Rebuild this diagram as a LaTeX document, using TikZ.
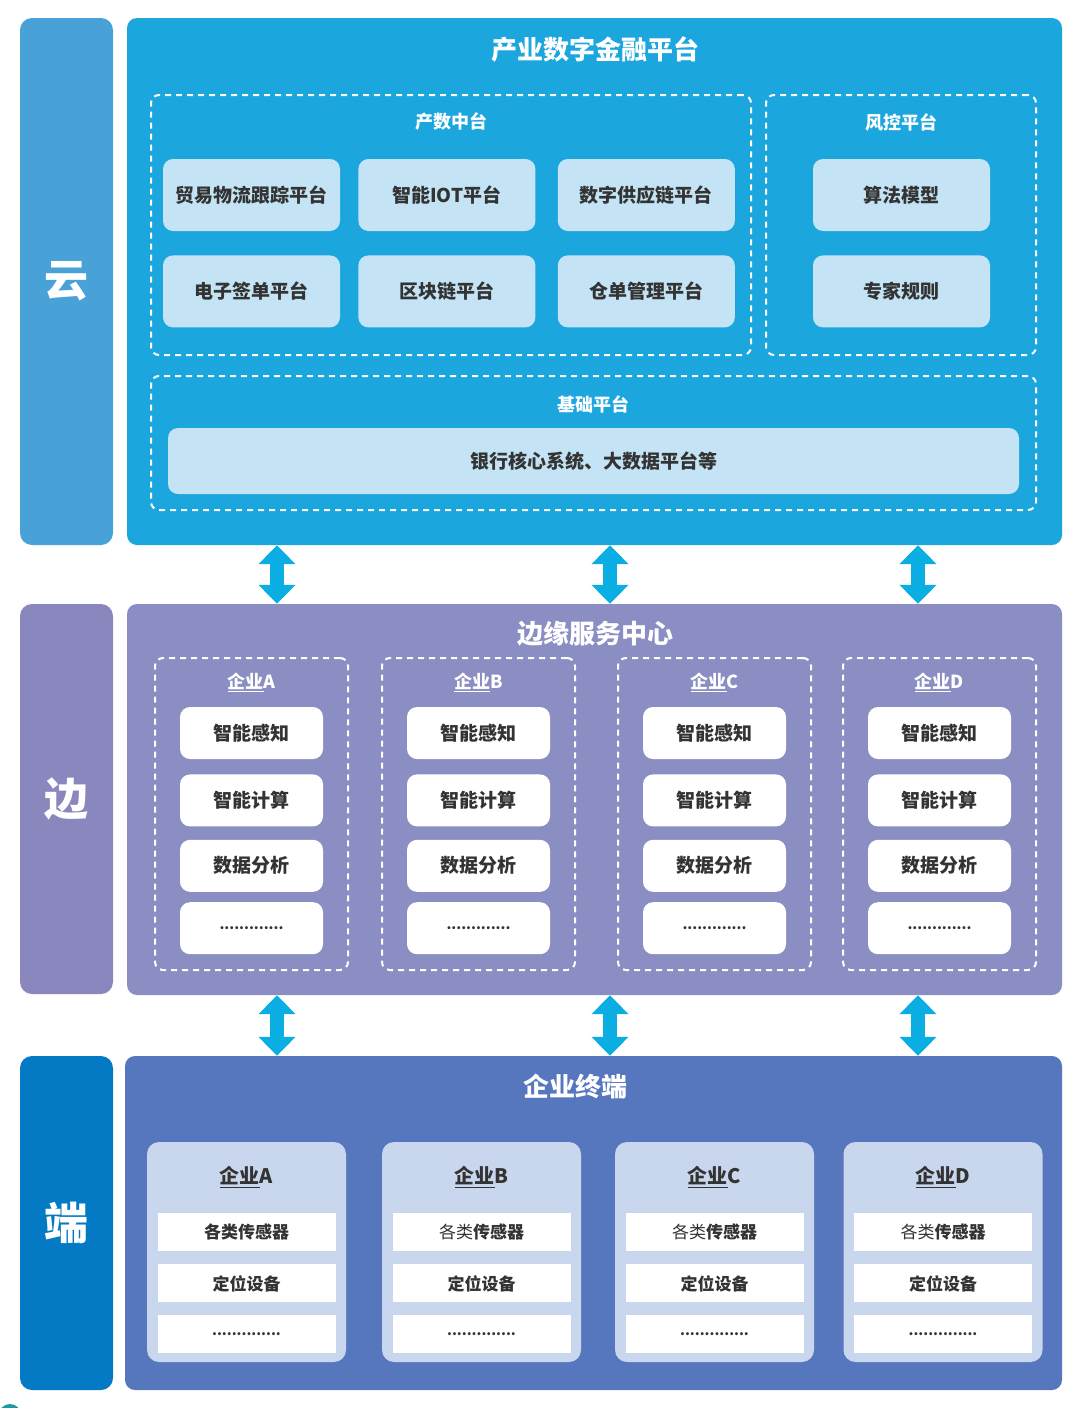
\documentclass[tikz,border=0pt]{standalone}
\usepackage{fontspec}
\setmainfont{Noto Sans CJK SC}
\usetikzlibrary{positioning,arrows.meta}

\definecolor{yunbar}{HTML}{48A1D7}
\definecolor{yunpanel}{HTML}{1BA6DE}
\definecolor{yunbox}{HTML}{C4E4F5}
\definecolor{bianbar}{HTML}{8A86BE}
\definecolor{bianpanel}{HTML}{8B8EC2}
\definecolor{duanbar}{HTML}{0479C4}
\definecolor{duanpanel}{HTML}{5677BD}
\definecolor{duancard}{HTML}{C9D7EE}
\definecolor{arrowblue}{HTML}{0BAEE2}
\definecolor{darktext}{HTML}{333333}
\definecolor{cornerteal}{HTML}{1E9A9C}

\begin{document}
\begin{tikzpicture}[x=1pt,y=-1pt,inner sep=0pt,
  sidebar/.style={rounded corners=12pt,minimum width=93pt,text=white,font=\bfseries\fontsize{44pt}{44pt}\selectfont},
  panel/.style={rounded corners=10pt,minimum width=935pt},
  paneltitle/.style={text=white,font=\bfseries\fontsize{26pt}{28pt}\selectfont},
  dashbox/.style={draw=white,line width=2pt,dash pattern=on 6pt off 5pt,rounded corners=8pt},
  grouplabel/.style={text=white,font=\bfseries\fontsize{18pt}{20pt}\selectfont},
  litebox/.style={fill=yunbox,rounded corners=10pt,minimum width=177pt,minimum height=72pt,text=darktext,font=\bfseries\fontsize{19pt}{21pt}\selectfont},
  whitebox/.style={fill=white,rounded corners=10pt,minimum width=143pt,minimum height=52pt,text=darktext,font=\bfseries\fontsize{19pt}{21pt}\selectfont},
  card/.style={fill=duancard,rounded corners=12pt,minimum width=199pt,minimum height=220pt},
  cardrow/.style={fill=white,minimum width=178pt,minimum height=38pt,text=darktext,font=\bfseries\fontsize{17pt}{19pt}\selectfont},
  dotfont/.style={font=\bfseries\fontsize{14pt}{16pt}\selectfont},
  dblarrow/.style={draw=arrowblue,line width=14pt,{Triangle[width=36pt,length=19pt]}-{Triangle[width=36pt,length=19pt]}}]
  \useasboundingbox (0,0) rectangle (1080,1408);

  % cloud layer
  \node[sidebar,fill=yunbar,minimum height=527pt] (yunBar) at (66.5,281.5) {云};
  \node[panel,fill=yunpanel,minimum height=527pt] (yunPanel) at (594.5,281.5) {};
  \node[paneltitle] (yunTitle) at (595,50) {产业数字金融平台};

  \node[dashbox,minimum width=600pt,minimum height=260pt] (chanshu) at (451,225) {};
  \node[grouplabel] (chanshuT) at (451,122) {产数中台};
  \node[litebox] (maoyi) at (251.5,195) {贸易物流跟踪平台};
  \node[litebox,right=18pt of maoyi] (iot) {智能IOT平台};
  \node[litebox,right=22pt of iot] (gongying) {数字供应链平台};
  \node[litebox,below=24pt of maoyi] (qiandan) {电子签单平台};
  \node[litebox,below=24pt of iot] (qukuai) {区块链平台};
  \node[litebox,below=24pt of gongying] (cangdan) {仓单管理平台};

  \node[dashbox,minimum width=270pt,minimum height=260pt] (fengkong) at (901,225) {};
  \node[grouplabel] (fengkongT) at (901,122) {风控平台};
  \node[litebox] (suanfa) at (901.5,195) {算法模型};
  \node[litebox,below=24pt of suanfa] (zhuanjia) {专家规则};

  \node[dashbox,minimum width=885pt,minimum height=134pt] (jichu) at (593.5,443) {};
  \node[grouplabel] (jichuT) at (593.5,404) {基础平台};
  \node[litebox,minimum width=851pt,minimum height=66pt] (yinhang) at (593.5,461) {银行核心系统、大数据平台等};

  % edge layer
  \node[sidebar,fill=bianbar,minimum height=390pt] (bianBar) at (66.5,799) {边};
  \node[panel,fill=bianpanel,minimum height=391pt] (bianPanel) at (594.5,799.5) {};
  \node[paneltitle] (bianTitle) at (595,634) {边缘服务中心};

  \foreach \co/\cx in {A/251.5,B/478.5,C/714.5,D/939.5}{
    \node[dashbox,minimum width=193pt,minimum height=312pt] (bian\co) at (\cx,814) {};
    \node[grouplabel] (bian\co T) at (\cx,682) {\underline{企业}\co};
    \node[whitebox] (bian\co1) at (\cx,733) {智能感知};
    \node[whitebox,below=15pt of bian\co1] (bian\co2) {智能计算};
    \node[whitebox,below=13pt of bian\co2] (bian\co3) {数据分析};
    \node[whitebox,below=10pt of bian\co3,dotfont] (bian\co4) {.............};
  }

  % terminal layer
  \node[sidebar,fill=duanbar,minimum height=334pt] (duanBar) at (66.5,1223) {端};
  \node[panel,fill=duanpanel,minimum width=937pt,minimum height=334pt] (duanPanel) at (593.5,1223) {};
  \node[paneltitle] (duanTitle) at (575,1087) {企业终端};

  \foreach \co/\cx/\gl in {A/246.5/\bfseries,B/481.5/\mdseries,C/714.5/\mdseries,D/943/\mdseries}{
    \node[card] (duan\co) at (\cx,1252) {};
    \node[text=darktext,font=\bfseries\fontsize{20pt}{22pt}\selectfont] (duan\co T) at (\cx,1177) {\underline{企业}\co};
    \node[cardrow] (duan\co1) at (\cx,1232) {{\gl 各类}传感器};
    \node[cardrow,below=13pt of duan\co1] (duan\co2) {定位设备};
    \node[cardrow,below=12pt of duan\co2,dotfont] (duan\co3) {..............};
  }

  % links between layers
  \coordinate (colA) at (277,0);
  \coordinate (colB) at (610,0);
  \coordinate (colC) at (918,0);
  \draw[dblarrow] (yunPanel.south -| colA) -- (bianPanel.north -| colA);
  \draw[dblarrow] (yunPanel.south -| colB) -- (bianPanel.north -| colB);
  \draw[dblarrow] (yunPanel.south -| colC) -- (bianPanel.north -| colC);
  \draw[dblarrow] (bianPanel.south -| colA) -- (duanPanel.north -| colA);
  \draw[dblarrow] (bianPanel.south -| colB) -- (duanPanel.north -| colB);
  \draw[dblarrow] (bianPanel.south -| colC) -- (duanPanel.north -| colC);

  \fill[cornerteal] (10,1415) circle (11);
\end{tikzpicture}
\end{document}
